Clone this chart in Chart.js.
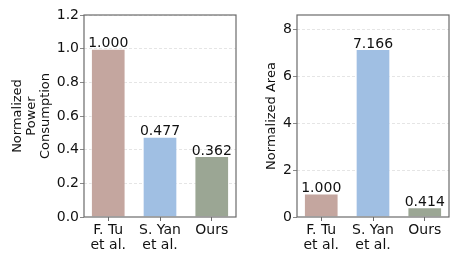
<!DOCTYPE html>
<html>
<head>
<meta charset="utf-8">
<script src="https://cdn.jsdelivr.net/npm/chart.js@4"></script>
<style>
  html, body { margin: 0; padding: 0; background: #fff; }
  #wrap { position: relative; width: 458px; height: 262px; }
  .box { position: absolute; top: 0; height: 262px; }
</style>
</head>
<body>
<div id="wrap">
  <div class="box" style="left:0;width:240px"><canvas id="powerChart"></canvas></div>
  <div class="box" style="left:240px;width:218px"><canvas id="areaChart"></canvas></div>
</div>
<script>
(function () {
    'use strict';

    // data
    var methods = [['F. Tu', 'et al.'], ['S. Yan', 'et al.'], ['Ours']];
    var powerValues = [1.000, 0.477, 0.362];
    var areaValues = [1.000, 7.166, 0.414];
    var powerTicks = [0, 0.2, 0.4, 0.6, 0.8, 1.0, 1.2];
    var areaTicks = [0, 2, 4, 6, 8];
    var barColors = ['#c4a69f', '#a0bfe3', '#9ba694'];

    var FONT = 'DejaVu Sans';
    var SPINE = '#6b6b6b';
    var BAR_W = 0.67;
    var X_PAD = BAR_W / 2 + 0.05 * (methods.length - 1 + BAR_W);

    // frame around the plot area + value labels above bars
    var framePlugin = {
        id: 'frame',
        afterDatasetsDraw: function (chart) {
            var ctx = chart.ctx;
            var a = chart.chartArea;
            ctx.save();
            ctx.strokeStyle = SPINE;
            ctx.lineWidth = 1.2;
            ctx.strokeRect(a.left, a.top, a.right - a.left, a.bottom - a.top);

            var meta = chart.getDatasetMeta(0);
            var vals = chart.data.datasets[0].data;
            ctx.fillStyle = '#111';
            ctx.font = '14px "' + FONT + '"';
            ctx.textAlign = 'center';
            ctx.textBaseline = 'bottom';
            meta.data.forEach(function (bar, i) {
                ctx.fillText(vals[i].y.toFixed(3), bar.x, bar.y + 2);
            });
            ctx.restore();
        }
    };

    function makeChart(id, values, ticks, yMax, title, titlePad, yWidth, padRight) {
        return new Chart(document.getElementById(id), {
            type: 'bar',
            data: {
                datasets: [{
                    data: values.map(function (v, i) { return { x: i, y: v }; }),
                    backgroundColor: barColors,
                    borderColor: 'rgba(255,255,255,0.55)',
                    borderWidth: 1,
                    barPercentage: BAR_W,
                    categoryPercentage: 1.0
                }]
            },
            options: {
                responsive: true,
                maintainAspectRatio: false,
                animation: false,
                layout: { padding: { top: 15, right: padRight, left: 0, bottom: 0 } },
                plugins: { legend: { display: false }, tooltip: { enabled: false } },
                scales: {
                    x: {
                        type: 'linear',
                        offset: false,
                        min: -X_PAD,
                        max: methods.length - 1 + X_PAD,
                        afterBuildTicks: function (s) {
                            s.ticks = methods.map(function (m, i) { return { value: i }; });
                        },
                        grid: { display: true, offset: false, drawOnChartArea: false, drawTicks: true, tickLength: 4, color: SPINE, tickColor: SPINE },
                        border: { display: false },
                        ticks: {
                            color: '#111',
                            font: { family: FONT, size: 14, lineHeight: 1.08 },
                            padding: 2,
                            maxRotation: 0,
                            autoSkip: false,
                            callback: function (v) { return methods[v]; }
                        },
                        afterFit: function (s) { s.height = 45; }
                    },
                    y: {
                        min: 0,
                        max: yMax,
                        afterBuildTicks: function (s) {
                            s.ticks = ticks.map(function (v) { return { value: v }; });
                        },
                        grid: {
                            color: function (c) { return c.tick && c.tick.value === 0 ? 'rgba(0,0,0,0)' : '#dedede'; },
                            lineWidth: 0.8,
                            tickLength: 4,
                            tickColor: SPINE,
                            tickBorderDash: []
                        },
                        border: { display: false, dash: [3, 2] },
                        ticks: {
                            color: '#111',
                            font: { family: FONT, size: 14 },
                            padding: 1,
                            callback: function (v) { return yMax < 2 ? Number(v).toFixed(1) : String(v); }
                        },
                        title: {
                            display: true,
                            text: title,
                            color: '#111',
                            font: { family: FONT, size: 13, lineHeight: 1.1 },
                            padding: { top: titlePad, bottom: 0 }
                        },
                        afterFit: function (s) { s.width = yWidth; }
                    }
                }
            },
            plugins: [framePlugin]
        });
    }

    makeChart('powerChart', powerValues, powerTicks, 1.2,
        ['Normalized', 'Power', 'Consumption'], 10, 84, 4);
    makeChart('areaChart', areaValues, areaTicks, 8.61,
        'Normalized Area', 24, 57, 9);
})();
</script>
</body>
</html>
